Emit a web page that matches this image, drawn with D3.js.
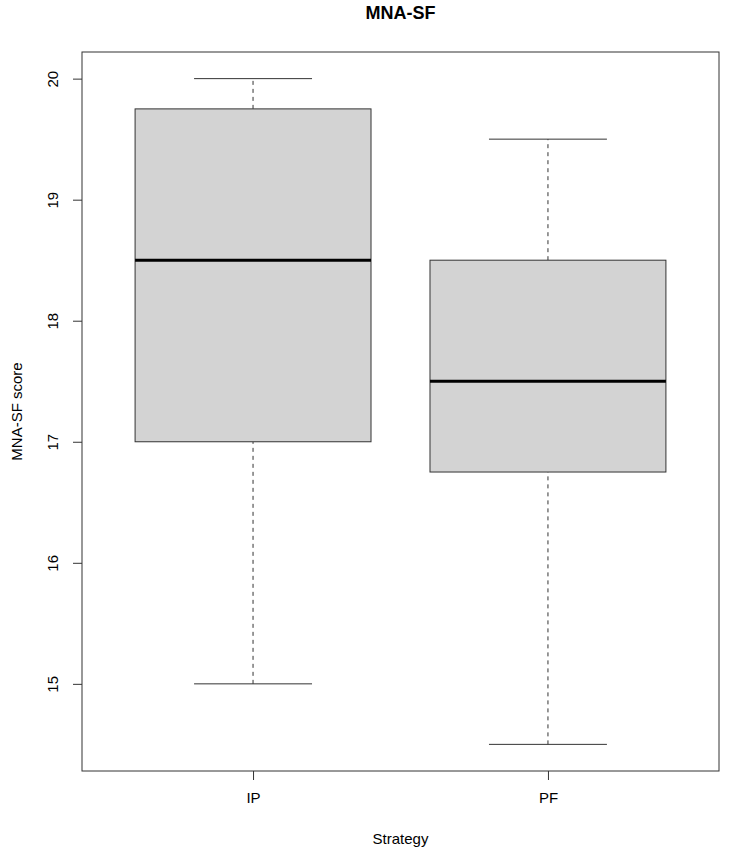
<!DOCTYPE html>
<html>
<head>
<meta charset="utf-8">
<script src="https://cdn.jsdelivr.net/npm/d3@7"></script>
<style>
  body { margin: 0; background: #fff; }
  text { font-family: "Liberation Sans", Arial, sans-serif; }
</style>
</head>
<body>
<svg width="731" height="854"></svg>
<script>
const svg = d3.select("svg");

// data
const groups = ["IP", "PF"];
const lowWhisker = [15, 14.5];
const q1 = [17, 16.75];
const medians = [18.5, 17.5];
const q3 = [19.75, 18.5];
const highWhisker = [20, 19.5];
const yTicks = [15, 16, 17, 18, 19, 20];

const boxes = groups.map((g, i) => ({
    group: g, pos: i + 1,
    lo: lowWhisker[i], q1: q1[i], med: medians[i], q3: q3[i], hi: highWhisker[i]
}));

const plot = { left: 82, right: 719, top: 52, bottom: 771 };

const xScale = d3.scaleLinear().domain([0.42, 2.58]).range([plot.left, plot.right]);
const yScale = d3.scaleLinear().domain([14.28, 20.22]).range([plot.bottom, plot.top]);

const boxW = xScale(1.4) - xScale(1);
const capW = xScale(1.2) - xScale(1);

const b = svg.append('g').selectAll('g')
    .data(boxes)
    .enter().append('g');

// whiskers
b.append('line')
    .attr('x1', d => xScale(d.pos)).attr('x2', d => xScale(d.pos))
    .attr('y1', d => yScale(d.lo)).attr('y2', d => yScale(d.q1))
    .attr('stroke', '#333').attr('stroke-dasharray', '4,4');
b.append('line')
    .attr('x1', d => xScale(d.pos)).attr('x2', d => xScale(d.pos))
    .attr('y1', d => yScale(d.q3)).attr('y2', d => yScale(d.hi))
    .attr('stroke', '#333').attr('stroke-dasharray', '4,4');

// caps
b.append('line')
    .attr('x1', d => xScale(d.pos) - capW).attr('x2', d => xScale(d.pos) + capW)
    .attr('y1', d => yScale(d.lo)).attr('y2', d => yScale(d.lo))
    .attr('stroke', '#333');
b.append('line')
    .attr('x1', d => xScale(d.pos) - capW).attr('x2', d => xScale(d.pos) + capW)
    .attr('y1', d => yScale(d.hi)).attr('y2', d => yScale(d.hi))
    .attr('stroke', '#333');

// box
b.append('rect')
    .attr('x', d => xScale(d.pos) - boxW)
    .attr('y', d => yScale(d.q3))
    .attr('width', 2 * boxW)
    .attr('height', d => yScale(d.q1) - yScale(d.q3))
    .attr('fill', '#d3d3d3')
    .attr('stroke', '#333');

// median
b.append('line')
    .attr('x1', d => xScale(d.pos) - boxW).attr('x2', d => xScale(d.pos) + boxW)
    .attr('y1', d => yScale(d.med)).attr('y2', d => yScale(d.med))
    .attr('stroke', '#000').attr('stroke-width', 3);

// plot frame
svg.append('rect')
    .attr('x', plot.left).attr('y', plot.top)
    .attr('width', plot.right - plot.left).attr('height', plot.bottom - plot.top)
    .attr('fill', 'none').attr('stroke', '#333');

// y axis
const yAxisG = svg.append('g')
    .attr('transform', `translate(${plot.left}, 0)`)
    .call(d3.axisLeft(yScale).tickValues(yTicks).tickSize(9).tickPadding(0).tickFormat(d3.format('d')));
yAxisG.select('.domain').remove();
yAxisG.selectAll('.tick line').attr('stroke', '#333');
yAxisG.selectAll('.tick text')
    .attr('x', 0).attr('dy', 0)
    .attr('transform', 'translate(-28,0) rotate(-90)')
    .attr('text-anchor', 'middle')
    .attr('dominant-baseline', 'middle')
    .attr('font-size', 15)
    .attr('fill', '#000');

// x axis
const xAxisG = svg.append('g')
    .attr('transform', `translate(0, ${plot.bottom})`)
    .call(d3.axisBottom(xScale).tickValues([1, 2]).tickSize(9).tickPadding(12)
        .tickFormat(d => groups[d - 1]));
xAxisG.select('.domain').remove();
xAxisG.selectAll('.tick line').attr('stroke', '#333');
xAxisG.selectAll('.tick text').attr('font-size', 15).attr('fill', '#000');

// labels
svg.append('text')
    .attr('x', (plot.left + plot.right) / 2).attr('y', 19)
    .attr('text-anchor', 'middle')
    .attr('font-size', 18).attr('font-weight', 'bold')
    .text('MNA-SF');

svg.append('text')
    .attr('x', (plot.left + plot.right) / 2).attr('y', 844)
    .attr('text-anchor', 'middle')
    .attr('font-size', 15)
    .text('Strategy');

svg.append('text')
    .attr('transform', `translate(22, ${(plot.top + plot.bottom) / 2}) rotate(-90)`)
    .attr('text-anchor', 'middle')
    .attr('font-size', 15)
    .text('MNA-SF score');
</script>
</body>
</html>
